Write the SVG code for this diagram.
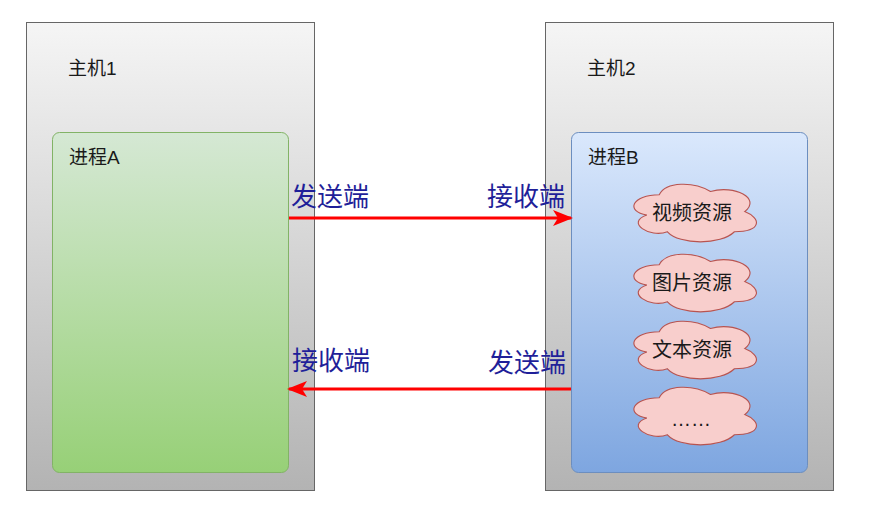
<svg xmlns="http://www.w3.org/2000/svg" width="874" height="510" viewBox="0 0 874 510">
<defs>
<linearGradient id="gHost" x1="0" y1="0" x2="0" y2="1"><stop offset="0" stop-color="#f5f5f5"/><stop offset="1" stop-color="#b3b3b3"/></linearGradient>
<linearGradient id="gA" x1="0" y1="0" x2="0" y2="1"><stop offset="0" stop-color="#d5e8d4"/><stop offset="1" stop-color="#97d077"/></linearGradient>
<linearGradient id="gB" x1="0" y1="0" x2="0" y2="1"><stop offset="0" stop-color="#dae8fc"/><stop offset="1" stop-color="#7ea6e0"/></linearGradient>
<marker id="arr" viewBox="0 0 20 16" refX="18" refY="8" markerWidth="20" markerHeight="16" markerUnits="userSpaceOnUse" orient="auto">
<path d="M0,0 L20,8 L0,16 L5,8 Z" fill="#ff0000"/>
</marker>
<path id="cloud" d="M30,15 C6,15 0,30 19.2,33 C0,39.6 21.6,54 37.2,48 C48,60 84,60 96,48 C120,48 120,36 105,30 C120,18 96,6 75,12 C60,3 36,3 30,15 Z"/>
</defs>
<style>
.host{fill:url(#gHost);stroke:#666666;stroke-width:1}
.t{font-family:"Liberation Sans","Noto Sans CJK SC",sans-serif;font-size:19px;fill:#1a1a1a}
.lbl{font-family:"Liberation Sans","Noto Sans CJK SC",sans-serif;font-size:26px;fill:#1f1f99}
.cl{fill:#f8cecc;stroke:#b85450;stroke-width:1;vector-effect:non-scaling-stroke}
.ct{font-family:"Liberation Sans","Noto Sans CJK SC",sans-serif;font-size:20px;fill:#1a1a1a;text-anchor:middle}
.edge{stroke:#ff0000;stroke-width:3;fill:none}
</style>
<g id="host1">
<rect class="host" x="26.5" y="22.5" width="288" height="468"/>
<text class="t" x="68" y="75">主机1</text>
</g>
<g id="host2">
<rect class="host" x="545.5" y="22.5" width="288" height="468"/>
<text class="t" x="587" y="75">主机2</text>
</g>
<g id="processA">
<rect x="52.5" y="132.5" width="236" height="340" rx="7" fill="url(#gA)" stroke="#82b366"/>
<text class="t" x="69" y="164">进程A</text>
</g>
<g id="processB">
<rect x="571.5" y="132.5" width="236" height="340" rx="7" fill="url(#gB)" stroke="#6c8ebf"/>
<text class="t" x="588" y="164">进程B</text>
</g>
<g id="cloud1">
<use href="#cloud" class="cl" transform="translate(625,178) scale(1.14,1.12)"/>
<text class="ct" x="692" y="220">视频资源</text>
</g>
<g id="cloud2">
<use href="#cloud" class="cl" transform="translate(625,248) scale(1.14,1.12)"/>
<text class="ct" x="692" y="290">图片资源</text>
</g>
<g id="cloud3">
<use href="#cloud" class="cl" transform="translate(625,315) scale(1.14,1.12)"/>
<text class="ct" x="692" y="357">文本资源</text>
</g>
<g id="cloud4">
<use href="#cloud" class="cl" transform="translate(625,381) scale(1.14,1.12)"/>
<text class="ct" x="691" y="426">……</text>
</g>
<g id="connectors">
<line class="edge" x1="289" y1="218" x2="571" y2="218" marker-end="url(#arr)"/>
<line class="edge" x1="571" y1="389" x2="289" y2="389" marker-end="url(#arr)"/>
<text class="lbl" x="291" y="206">发送端</text>
<text class="lbl" x="487" y="206">接收端</text>
<text class="lbl" x="292" y="370">接收端</text>
<text class="lbl" x="488" y="372">发送端</text>
</g>
</svg>
